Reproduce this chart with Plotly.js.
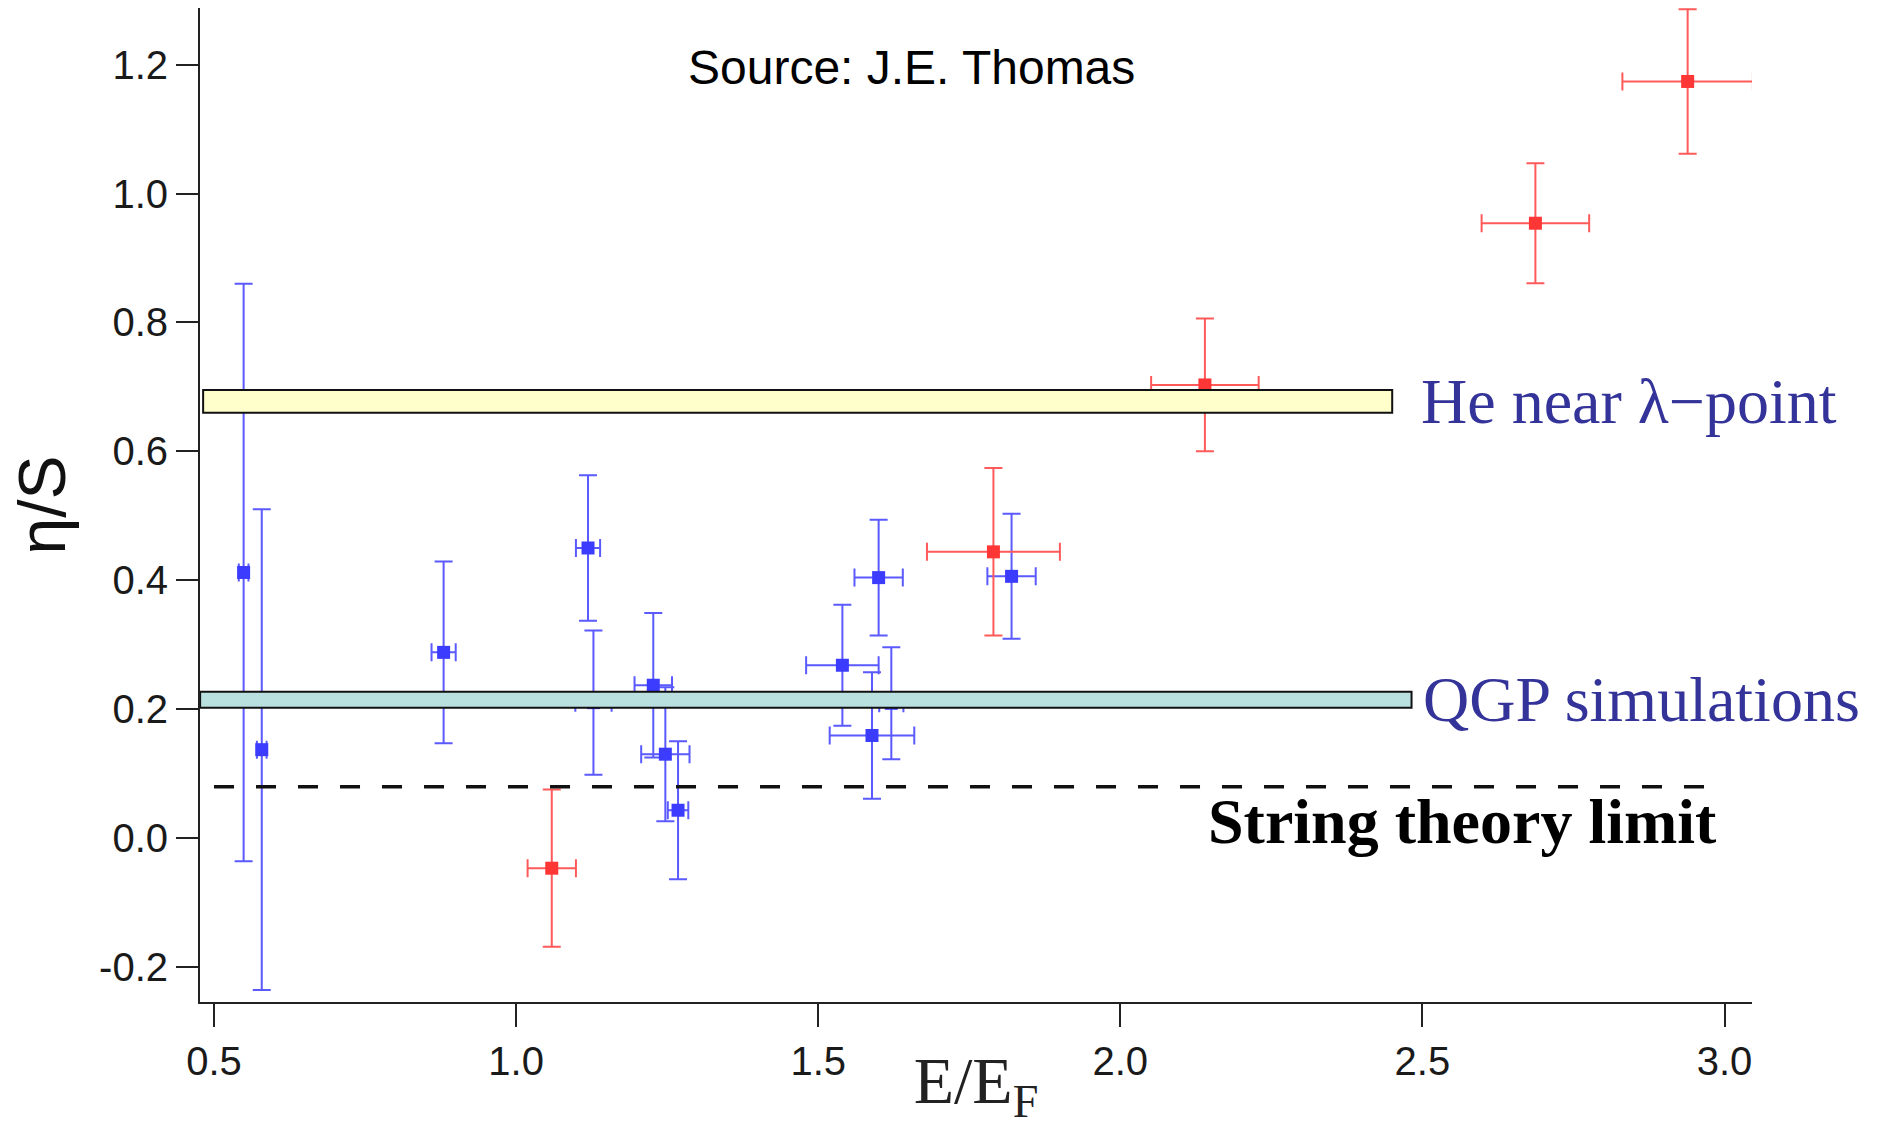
<!DOCTYPE html>
<html>
<head>
<meta charset="utf-8">
<script src="https://cdn.plot.ly/plotly-3.0.1.min.js"></script>
<style>html,body{margin:0;padding:0;background:#fff;}#chart{width:1879px;height:1127px;}</style>
</head>
<body>
<div id="chart"></div>
<script>
// ---- data ----
const blueX    = [0.549, 0.579, 0.880, 1.119, 1.128, 1.227, 1.247, 1.268, 1.540, 1.600, 1.589, 1.621, 1.820];
const blueY    = [0.412, 0.137, 0.288, 0.450, 0.210, 0.237, 0.130, 0.043, 0.268, 0.404, 0.159, 0.209, 0.406];
const blueXErr = [0.008, 0.008, 0.020, 0.020, 0.030, 0.031, 0.040, 0.017, 0.060, 0.040, 0.070, 0.020, 0.040];
const blueYErr = [0.448, 0.373, 0.141, 0.113, 0.112, 0.112, 0.104, 0.107, 0.094, 0.090, 0.098, 0.087, 0.097];

const redX     = [1.059, 1.790, 2.140, 2.687, 2.939];
const redY     = [-0.047, 0.444, 0.703, 0.954, 1.174];
const redXErr  = [0.040, 0.110, 0.089, 0.089, 0.108];
const redYErr  = [0.122, 0.130, 0.103, 0.093, 0.112];

// reference bands and limit
const bandLabels = ["He near \u03bb\u2212point", "QGP simulations"];
const bandX0     = [0.482, 0.477];
const bandX1     = [2.450, 2.482];
const bandY0     = [0.660, 0.202];
const bandY1     = [0.695, 0.227];
const bandFill   = ["#ffffcc", "#b9dfdf"];
const stringLimit = 0.0796;
const stringLimitX = [0.500, 2.967];
const stringLabel = "String theory limit";
const sourceLabel = "Source: J.E. Thomas";

const xTickVals = [0.5, 1.0, 1.5, 2.0, 2.5, 3.0];
const xTickText = ["0.5", "1.0", "1.5", "2.0", "2.5", "3.0"];
const yTickVals = [-0.2, 0.0, 0.2, 0.4, 0.6, 0.8, 1.0, 1.2];
const yTickText = ["-0.2", "0.0", "0.2", "0.4", "0.6", "0.8", "1.0", "1.2"];

// ---- traces ----
function pts(x, y, xe, ye, mcol, ecol) {
  return {
    type: 'scatter', mode: 'markers', x: x, y: y,
    marker: {symbol: 'square', size: 13, color: mcol},
    error_x: {type: 'data', array: xe, visible: true, color: ecol, thickness: 2, width: 9},
    error_y: {type: 'data', array: ye, visible: true, color: ecol, thickness: 2, width: 9},
    hoverinfo: 'skip', cliponaxis: false
  };
}
const traces = [
  pts(blueX, blueY, blueXErr, blueYErr, '#3c3cff', '#5a5aff'),
  pts(redX, redY, redXErr, redYErr, '#ff3636', '#ff5a5a')
];

const shapes = [];
for (let i = 0; i < bandLabels.length; i++) {
  shapes.push({type: 'rect', xref: 'x', yref: 'y', x0: bandX0[i], x1: bandX1[i], y0: bandY0[i], y1: bandY1[i],
               fillcolor: bandFill[i], line: {color: '#111', width: 2}, layer: 'above'});
}
shapes.push({type: 'line', xref: 'x', yref: 'y', x0: stringLimitX[0], x1: stringLimitX[1], y0: stringLimit, y1: stringLimit,
             line: {color: '#111', width: 3.5, dash: '20px,22px'}, layer: 'above'});

const blueText = '#333399';
const annotations = [
  {xref: 'x', yref: 'y', x: 1.655, y: 1.195, text: sourceLabel, showarrow: false, xanchor: 'center', yanchor: 'middle',
   font: {family: 'Liberation Sans, Arial, sans-serif', size: 48, color: '#000'}},
  {xref: 'x', yref: 'y', x: 2.495, y: bandY0[0] + (bandY1[0]-bandY0[0])/2, text: bandLabels[0], showarrow: false, xanchor: 'left', yanchor: 'middle',
   font: {family: 'Liberation Serif, Times New Roman, serif', size: 64, color: blueText}},
  {xref: 'x', yref: 'y', x: 2.498, y: bandY0[1] + (bandY1[1]-bandY0[1])/2, text: bandLabels[1], showarrow: false, xanchor: 'left', yanchor: 'middle',
   font: {family: 'Liberation Serif, Times New Roman, serif', size: 64, color: blueText}},
  {xref: 'x', yref: 'y', x: 2.566, y: 0.025, text: '<b>' + stringLabel + '</b>', showarrow: false, xanchor: 'center', yanchor: 'middle',
   font: {family: 'Liberation Serif, Times New Roman, serif', size: 64, color: '#000'}}
];

const axisFont = {family: 'Liberation Sans, Arial, sans-serif', size: 40, color: '#1a1a1a'};
const layout = {
  width: 1879, height: 1127,
  margin: {l: 200, r: 127, t: 8, b: 125, pad: 0},
  paper_bgcolor: '#fff', plot_bgcolor: '#fff',
  showlegend: false, hovermode: false,
  font: axisFont,
  xaxis: {
    range: [0.4768, 3.0455], tickvals: xTickVals, ticktext: xTickText,
    showgrid: false, zeroline: false, showline: true, linecolor: '#222', linewidth: 2,
    ticks: 'outside', ticklen: 23, tickwidth: 2, tickcolor: '#222', tickfont: axisFont,
    title: {text: 'E/E<sub>F</sub>', standoff: 0, font: {family: 'Liberation Serif, Times New Roman, serif', size: 66, color: '#222'}}
  },
  yaxis: {
    range: [-0.2546, 1.288], tickvals: yTickVals, ticktext: yTickText,
    showgrid: false, zeroline: false, showline: true, linecolor: '#222', linewidth: 2,
    ticks: 'outside', ticklen: 22, tickwidth: 2, tickcolor: '#222', tickfont: axisFont,
    title: {text: '\u03b7/S', standoff: 12, font: {family: 'Liberation Sans, Arial, sans-serif', size: 66, color: '#111'}}
  },
  shapes: shapes,
  annotations: annotations
};

Plotly.newPlot('chart', traces, layout, {staticPlot: true, displayModeBar: false});
</script>
</body>
</html>
